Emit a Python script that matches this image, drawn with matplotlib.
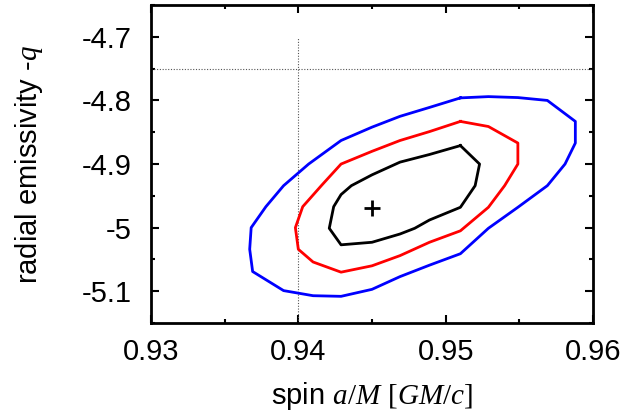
import matplotlib
matplotlib.use("Agg")
import matplotlib.pyplot as plt
from matplotlib.ticker import MultipleLocator

plt.rcParams['font.family'] = ['Liberation Sans', 'DejaVu Sans']
plt.rcParams['mathtext.fontset'] = 'custom'
plt.rcParams['mathtext.rm'] = 'Liberation Serif'
plt.rcParams['mathtext.it'] = 'Liberation Serif:italic'

# Confidence contours in (spin, -q) space
blue_x = [0.9510, 0.9529, 0.9549, 0.9569, 0.9588, 0.9588, 0.9581, 0.9569, 0.9549,
          0.9529, 0.9510, 0.9489, 0.9469, 0.9450, 0.9429, 0.9410, 0.9390, 0.9369,
          0.9367, 0.9368, 0.9378, 0.9390, 0.9407, 0.9429, 0.9450, 0.9469, 0.9489, 0.9510]
blue_y = [-4.796, -4.794, -4.7955, -4.800, -4.833, -4.867, -4.900, -4.934, -4.968,
          -5.001, -5.041, -5.059, -5.077, -5.097, -5.108, -5.107, -5.099, -5.069,
          -5.034, -5.000, -4.967, -4.934, -4.900, -4.863, -4.842, -4.825, -4.811, -4.796]

red_x = [0.9510, 0.9529, 0.9549, 0.9549, 0.9540, 0.9529, 0.9510, 0.9489, 0.9469,
         0.9450, 0.9429, 0.9410, 0.9400, 0.9398, 0.9403, 0.9416, 0.9429, 0.9450,
         0.9469, 0.9489, 0.9510]
red_y = [-4.833, -4.841, -4.867, -4.900, -4.934, -4.968, -5.005, -5.023, -5.044,
         -5.060, -5.070, -5.054, -5.034, -5.000, -4.967, -4.933, -4.900, -4.880,
         -4.863, -4.849, -4.833]

black_x = [0.9510, 0.9523, 0.9520, 0.9510, 0.9489, 0.9479, 0.9469, 0.9450, 0.9429,
           0.9421, 0.9424, 0.9429, 0.9436, 0.9450, 0.9469, 0.9489, 0.9510]
black_y = [-4.871, -4.900, -4.934, -4.968, -4.988, -5.001, -5.010, -5.023, -5.027,
           -5.001, -4.967, -4.948, -4.934, -4.917, -4.897, -4.885, -4.871]

best_fit = (0.9450, -4.969)
ref_spin = 0.94
ref_q = -4.75

x_ticks = [0.93, 0.94, 0.95, 0.96]
x_labels = ["0.93", "0.94", "0.95", "0.96"]
y_ticks = [-5.1, -5.0, -4.9, -4.8, -4.7]
y_labels = ["-5.1", "-5", "-4.9", "-4.8", "-4.7"]

fig = plt.figure(figsize=(6.28, 4.19), dpi=100)
ax = fig.add_axes([0.2404, 0.229, 0.7039, 0.759])

ax.set_xlim(0.93, 0.96)
ax.set_ylim(-5.15, -4.65)

# reference lines
ax.plot([ref_spin, ref_spin], [-5.15, -4.7], color='#555555', lw=0.8, ls=(0, (1, 1.5)))
ax.plot([0.93, 0.96], [ref_q, ref_q], color='#555555', lw=0.8, ls=(0, (1, 1.5)))

ax.plot(blue_x, blue_y, color='#0000ff', lw=2.0)
ax.plot(red_x, red_y, color='#ff0000', lw=2.0)
ax.plot(black_x, black_y, color='black', lw=2.0)
ax.plot([best_fit[0]], [best_fit[1]], marker='+', color='black', ms=11, mew=2)

ax.set_xticks(x_ticks)
ax.set_xticklabels(x_labels)
ax.set_yticks(y_ticks)
ax.set_yticklabels(y_labels)
ax.xaxis.set_minor_locator(MultipleLocator(0.005))
ax.yaxis.set_minor_locator(MultipleLocator(0.05))
ax.tick_params(which='both', direction='in', top=True, right=True, width=1.5)
ax.tick_params(which='major', length=6, labelsize=21)
ax.tick_params(which='minor', length=3)
ax.tick_params(axis='x', pad=11)
ax.tick_params(axis='y', pad=14)

for s in ax.spines.values():
    s.set_linewidth(2)

ax.set_xlabel(r"spin $a/M$ $\mathrm{[}GM/c\mathrm{]}$", fontsize=21, labelpad=10)
ax.set_ylabel(r"radial emissivity -$q$", fontsize=21, labelpad=26)

fig.savefig("out.png", dpi=100)
